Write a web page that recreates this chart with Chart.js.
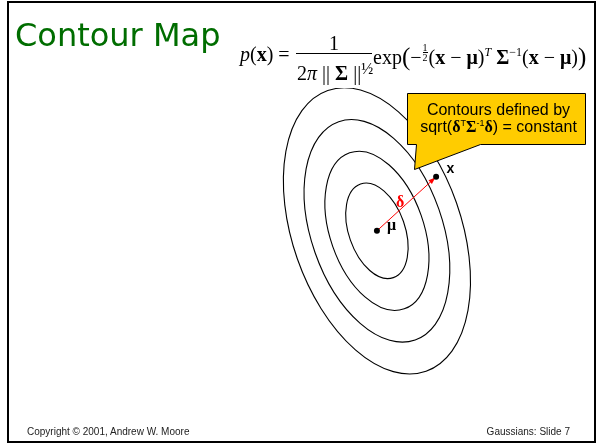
<!DOCTYPE html>
<html>
<head>
<meta charset="utf-8">
<script src="https://cdn.jsdelivr.net/npm/chart.js@4.4.1/dist/chart.umd.min.js"></script>
<style>
  html, body { margin: 0; padding: 0; background: #fff; }
  body { width: 596px; height: 444px; position: relative; overflow: hidden; }
  #contourChart { position: absolute; left: 0; top: 0; }
  .t { position: absolute; white-space: nowrap; line-height: 1; }
  #frame { position: absolute; left: 7px; top: 1px; width: 589px; height: 442px;
           border: 2px solid #000; box-sizing: border-box; }
  #title { left: 15px; top: 16px; font: 32px "DejaVu Sans", sans-serif; color: #006d00; }
  .foot { top: 425.5px; font: 10px "Liberation Sans", Arial, sans-serif; color: #222; }
  #mask { position: absolute; left: 228px; top: 30px; width: 362px; height: 57.5px; background: #fff; }
  .f { font: 20px "Liberation Serif", "Times New Roman", serif; color: #000; }
  .f b { font-weight: bold; }
  .f sup { font-size: 12px; line-height: 0; vertical-align: 8px; }
  .big { font-size: 25px; vertical-align: -1px; line-height: 0; }
  .sfrac { display: inline-block; vertical-align: 3px; font-size: 10px; line-height: 9px;
           text-align: center; margin: 0 1px; }
  .sfrac span { display: block; }
  .sfrac span:first-child { border-bottom: 1px solid #000; }
  #fracbar { position: absolute; left: 296px; top: 53px; width: 76px; height: 1px; background: #000; }
  .f sup.half { font-size: 16px; vertical-align: 6px; }
  .call { left: 408px; width: 181px; text-align: center;
          font: 16px "Liberation Sans", Arial, sans-serif; color: #000; }
  .call b { font: bold 16px "Liberation Serif", serif; }
  .call sup { font-size: 9px; line-height: 0; vertical-align: 6px; }
  .lab { position: absolute; white-space: nowrap; line-height: 1; }
</style>
</head>
<body>
<canvas id="contourChart" width="596" height="444"></canvas>

<div id="frame"></div>
<div class="t" id="title">Contour Map</div>

<div id="mask"></div>
<div class="t f" style="left:240px;top:43px"><i>p</i>(<b>x</b>) =</div>
<div class="t f" style="left:329px;top:31.7px">1</div>
<div id="fracbar"></div>
<div class="t f" style="left:297px;top:61.5px">2<i>π</i> || <b>Σ</b> ||<sup class="half">½</sup></div>
<div class="t f" style="left:373px;top:43px">exp<span class="big">(</span>−<span class="sfrac"><span>1</span><span>2</span></span>(<b>x</b> − <b>μ</b>)<sup><i>T</i></sup> <b>Σ</b><sup>−1</sup>(<b>x</b> − <b>μ</b>)<span class="big">)</span></div>

<div class="t call" style="top:101px">Contours defined by</div>
<div class="t call" style="top:117.5px">sqrt(<b>δ</b><sup>T</sup><b>Σ</b><sup>-1</sup><b>δ</b>) = constant</div>

<div class="lab" style="left:387px;top:215.6px;font:bold 16px 'Liberation Serif',serif">μ</div>
<div class="lab" style="left:396px;top:193.3px;font:bold 16px 'Liberation Serif',serif;color:#f00">δ</div>
<div class="lab" style="left:446.5px;top:160px;font:bold 14px 'Liberation Sans',sans-serif">x</div>

<div class="t foot" style="left:27px">Copyright © 2001, Andrew W. Moore</div>
<div class="t foot" style="right:26px">Gaussians: Slide 7</div>

<script>
// Slide coordinates (x to the right, y downwards)
const contourLevels = [1.5, 2.5, 3.5, 4.5]   // Mahalanobis distances of the drawn contours
const meanPoint = { x: 378, y: 231 }          // mu
const samplePoint = { x: 438, y: 176 }        // x
const unitAxes = [33.5, 19.0]                 // semi-axes of the distance-1 contour
const axisAngle = 70.7                        // degrees, major axis from horizontal

const ctx = document.getElementById('contourChart').getContext('2d')

// Draw the ellipses, the arrow head and the callout
const contourPlugin = {
  id: 'contours',
  beforeDatasetsDraw(chart) {
    const { ctx, scales: { x, y } } = chart
    const cx = x.getPixelForValue(meanPoint.x)
    const cy = y.getPixelForValue(meanPoint.y)
    const k = Math.abs(x.getPixelForValue(1) - x.getPixelForValue(0))
    ctx.save()
    ctx.strokeStyle = '#000'
    ctx.lineWidth = 1.1
    contourLevels.forEach((level) => {
      ctx.beginPath()
      ctx.ellipse(cx, cy, level * unitAxes[0] * k, level * unitAxes[1] * k,
        axisAngle * Math.PI / 180, 0, Math.PI * 2)
      ctx.stroke()
    })
    ctx.restore()
  },
  afterDatasetDraw(chart, args) {
    if (args.index !== 1) return
    const pts = args.meta.data
    const p0 = pts[0], p1 = pts[1]
    const ang = Math.atan2(p1.y - p0.y, p1.x - p0.x)
    const tipX = p1.x - 1 * Math.cos(ang), tipY = p1.y - 1 * Math.sin(ang)
    const { ctx } = chart
    ctx.save()
    ctx.fillStyle = '#ff0000'
    ctx.beginPath()
    ctx.moveTo(tipX, tipY)
    ctx.lineTo(tipX - 7 * Math.cos(ang) + 2.5 * Math.sin(ang), tipY - 7 * Math.sin(ang) - 2.5 * Math.cos(ang))
    ctx.lineTo(tipX - 7 * Math.cos(ang) - 2.5 * Math.sin(ang), tipY - 7 * Math.sin(ang) + 2.5 * Math.cos(ang))
    ctx.closePath()
    ctx.fill()
    ctx.restore()
  },
  afterDatasetsDraw(chart) {
    const { ctx, scales: { x, y } } = chart
    const shape = [[408, 91], [589, 91], [589, 143], [482, 143], [416, 168], [418, 143], [408, 143]]
    ctx.save()
    ctx.beginPath()
    shape.forEach(([px, py], i) => {
      const sx = Math.round(x.getPixelForValue(px)) + 0.5
      const sy = Math.round(y.getPixelForValue(py)) + 0.5
      if (i === 0) ctx.moveTo(sx, sy)
      else ctx.lineTo(sx, sy)
    })
    ctx.closePath()
    ctx.fillStyle = '#ffcc00'
    ctx.fill()
    ctx.strokeStyle = '#000'
    ctx.lineWidth = 1
    ctx.stroke()
    ctx.restore()
  }
}

const contourChart = new Chart(ctx, {
  type: 'scatter',
  data: {
    datasets: [
      {
        label: 'points',
        data: [meanPoint, samplePoint],
        pointRadius: 3,
        pointBackgroundColor: '#000',
        pointBorderColor: '#000',
        pointBorderWidth: 0
      },
      {
        label: 'delta',
        type: 'line',
        data: [meanPoint, samplePoint],
        borderColor: '#ff0000',
        borderWidth: 1,
        pointRadius: 0,
        fill: false
      }
    ]
  },
  options: {
    responsive: false,
    animation: false,
    events: [],
    layout: { padding: 0 },
    plugins: {
      legend: { display: false },
      tooltip: { enabled: false }
    },
    scales: {
      x: { type: 'linear', min: 0, max: 596, display: false },
      y: { type: 'linear', min: 0, max: 444, reverse: true, display: false }
    }
  },
  plugins: [contourPlugin]
})
</script>
</body>
</html>
